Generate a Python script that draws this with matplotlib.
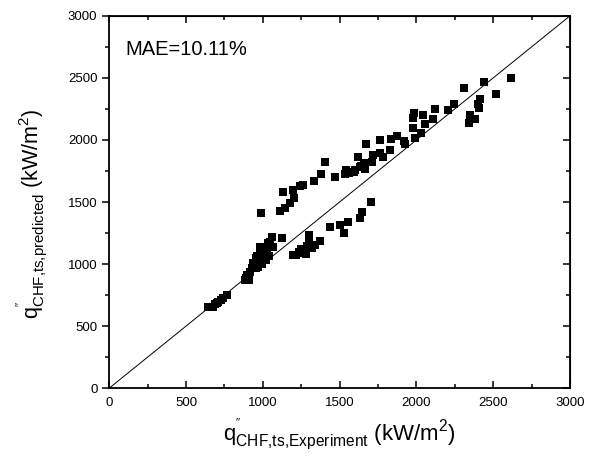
import matplotlib
matplotlib.use("Agg")
import matplotlib.pyplot as plt
from matplotlib.ticker import MultipleLocator

plt.rcParams['font.family'] = ['Liberation Sans', 'DejaVu Sans']
plt.rcParams['mathtext.fontset'] = 'custom'
plt.rcParams['mathtext.rm'] = 'Liberation Sans'
plt.rcParams['mathtext.it'] = 'Liberation Sans:italic'

q_exp = [2615, 2440, 2310, 2520, 2416, 2399, 2408, 2351, 2382, 2345,
         2247, 2203, 2119, 2108, 2041, 2058, 1982, 1978, 1980, 2030,
         1993, 1923, 1919, 1871, 1834, 1828, 1782, 1760, 1765, 1719,
         1708, 1669, 1622, 1656, 1665, 1632, 1594, 1561, 1539, 1535,
         1470, 1379, 1407, 1335, 1263, 1242, 1194, 1129, 1205, 1177,
         1144, 1111, 990,
         1704, 1646, 1631, 1554, 1504, 1526, 1435, 1374, 1298, 1302,
         1285, 1250, 1233, 1198, 1267, 1320, 1339, 1281, 1215,
         1059, 1127, 1068, 1035, 1018, 1003, 981, 960, 977, 938,
         927, 953, 1018, 997, 970, 1040, 916, 894, 883, 911, 890,
         1050, 1030, 1010, 990, 965, 945, 1000, 985, 1025, 955,
         764, 725, 711, 690, 667, 645, 678, 700, 740, 1580, 1600, 1640]
q_pred = [2501, 2463, 2420, 2370, 2329, 2289, 2254, 2205, 2168, 2133,
          2289, 2240, 2248, 2171, 2200, 2128, 2219, 2173, 2098, 2060,
          2012, 1967, 1993, 2031, 2004, 1921, 1865, 1996, 1897, 1878,
          1824, 1964, 1865, 1816, 1763, 1784, 1744, 1731, 1757, 1722,
          1704, 1725, 1822, 1669, 1634, 1629, 1596, 1578, 1535, 1494,
          1454, 1427, 1414,
          1502, 1417, 1374, 1342, 1317, 1253, 1299, 1186, 1232, 1189,
          1148, 1119, 1100, 1071, 1087, 1127, 1154, 1081, 1075,
          1218, 1210, 1140, 1167, 1121, 1087, 1095, 1068, 1033, 1006,
          969, 966, 1033, 998, 979, 1065, 939, 912, 872, 872, 891,
          1180, 1100, 1060, 1045, 1020, 990, 1120, 1140, 1090, 1050,
          754, 711, 698, 676, 657, 652, 652, 690, 730, 1745, 1760, 1790]

diag = [0, 3000]
annot = "MAE=10.11%"

fig = plt.figure(figsize=(6.0, 4.66), dpi=100)
ax = fig.add_axes([0.182, 0.167, 0.768, 0.799])
ax.plot(diag, diag, color='black', lw=0.7, zorder=1)
ax.scatter(q_exp, q_pred, marker='s', s=30, color='black', linewidths=0, zorder=2)

ax.set_xlim(0, 3000)
ax.set_ylim(0, 3000)
ax.xaxis.set_major_locator(MultipleLocator(500))
ax.xaxis.set_minor_locator(MultipleLocator(250))
ax.yaxis.set_major_locator(MultipleLocator(500))
ax.yaxis.set_minor_locator(MultipleLocator(250))

for s in ax.spines.values():
    s.set_linewidth(1.3)

ax.tick_params(axis='both', which='both', labelsize=9.5, width=1.1)
ax.tick_params(axis='y', which='major', direction='out', length=5, left=True, right=False)
ax.tick_params(axis='y', which='minor', direction='out', length=3, left=True, right=False)
ax.tick_params(axis='x', which='major', direction='in', length=5, bottom=True, top=False, pad=6)
ax.tick_params(axis='x', which='minor', direction='in', length=3, bottom=True, top=False)

axt = ax.secondary_xaxis('top')
axt.xaxis.set_major_locator(MultipleLocator(500))
axt.xaxis.set_minor_locator(MultipleLocator(250))
axt.tick_params(axis='x', which='major', direction='in', length=5, width=1.1, labeltop=False)
axt.tick_params(axis='x', which='minor', direction='in', length=3, width=1.1)
axr = ax.secondary_yaxis('right')
axr.yaxis.set_major_locator(MultipleLocator(500))
axr.yaxis.set_minor_locator(MultipleLocator(250))
axr.tick_params(axis='y', which='major', direction='in', length=5, width=1.1, labelright=False)
axr.tick_params(axis='y', which='minor', direction='in', length=3, width=1.1)

ax.set_xlabel(r"$\mathregular{q^{''}_{CHF{,}ts{,}Experiment}}$ (kW/m$\mathregular{^2}$)", fontsize=16, labelpad=6)
ax.set_ylabel(r"$\mathregular{q^{''}_{CHF{,}ts{,}predicted}}$ (kW/m$\mathregular{^2}$)", fontsize=15.5)
ax.yaxis.set_label_coords(-0.128, 0.47)

ax.text(0.035, 0.935, annot, transform=ax.transAxes, fontsize=14.5, va='top', ha='left')

fig.savefig('out.png', dpi=100)
